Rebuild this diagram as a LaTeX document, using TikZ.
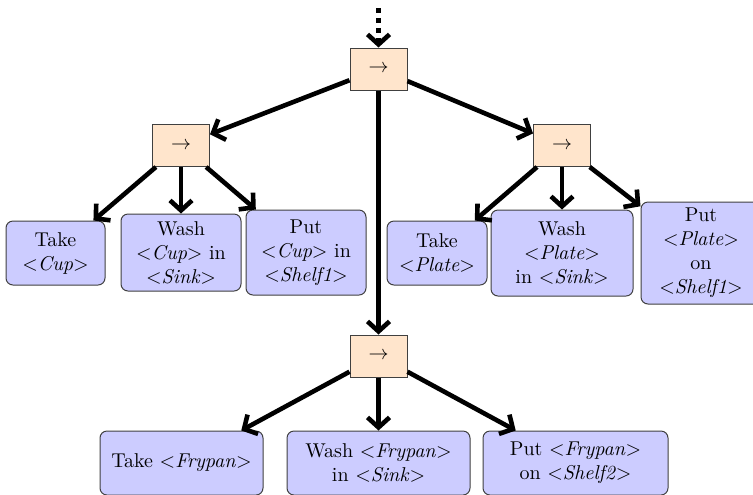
\documentclass[tikz,border=0pt]{standalone}
\usetikzlibrary{arrows.meta}
\newcommand{\obj}[1]{$<$\textit{#1}$>$}
\begin{document}
\begin{tikzpicture}[x=0.5pt,y=-0.5pt,
  seqbox/.style={draw=black!75,line width=0.5pt,fill=orange!20,
    minimum width=28.5pt,minimum height=21pt,inner sep=0pt},
  actbox/.style={draw=black!75,line width=0.5pt,fill=blue!20,rounded corners=3.5pt,
    align=center,inner sep=1pt},
  edge/.style={line width=2.3pt,-{Straight Barb[length=5pt,width=11pt]}},
]
\useasboundingbox (0,0) rectangle (753,494);
\clip (0,0) rectangle (753,494);

% sequence nodes
\node[seqbox] (root) at (378.5,69) {$\rightarrow$};
\node[seqbox] (lseq) at (181,145.5) {$\rightarrow$};
\node[seqbox] (rseq) at (562,145.5) {$\rightarrow$};
\node[seqbox] (bseq) at (378.5,356) {$\rightarrow$};

% actions: cup
\node[actbox,minimum width=49.5pt,minimum height=32pt] (t1) at (55.5,253) {Take\\\obj{Cup}};
\node[actbox,minimum width=60pt,minimum height=38.5pt] (w1) at (181,252.5) {Wash\\\obj{Cup} in\\\obj{Sink}};
\node[actbox,minimum width=60pt,minimum height=42.5pt] (p1) at (306,252.5) {Put\\\obj{Cup} in\\\obj{Shelf1}};

% actions: plate
\node[actbox,minimum width=50pt,minimum height=32pt] (t2) at (437,253) {Take\\\obj{Plate}};
\node[actbox,minimum width=71pt,minimum height=43pt] (w2) at (562,253) {Wash\\\obj{Plate}\\in \obj{Sink}};
\node[actbox,minimum width=60pt,minimum height=51pt] (p2) at (701,253) {Put\\\obj{Plate}\\on\\\obj{Shelf1}};

% actions: frypan
\node[actbox,minimum width=81.5pt,minimum height=32pt] (t3) at (181.5,463) {Take \obj{Frypan}};
\node[actbox,minimum width=91.5pt,minimum height=32pt] (w3) at (378.5,463) {Wash \obj{Frypan}\\in \obj{Sink}};
\node[actbox,minimum width=92.5pt,minimum height=32pt] (p3) at (575.5,463) {Put \obj{Frypan}\\on \obj{Shelf2}};

% incoming edge from the parent
\coordinate (top) at (378.5,8);
\draw[edge,dash pattern=on 2.5pt off 2.5pt] (top) -- (root);

% edges
\draw[edge] (root) -- (lseq);
\draw[edge] (root) -- (rseq);
\draw[edge] (root) -- (bseq);
\draw[edge] (lseq) -- (t1);
\draw[edge] (lseq) -- (w1);
\draw[edge] (lseq) -- (p1);
\draw[edge] (rseq) -- (t2);
\draw[edge] (rseq) -- (w2);
\draw[edge] (rseq) -- (p2);
\draw[edge] (bseq) -- (t3);
\draw[edge] (bseq) -- (w3);
\draw[edge] (bseq) -- (p3);
\end{tikzpicture}
\end{document}
